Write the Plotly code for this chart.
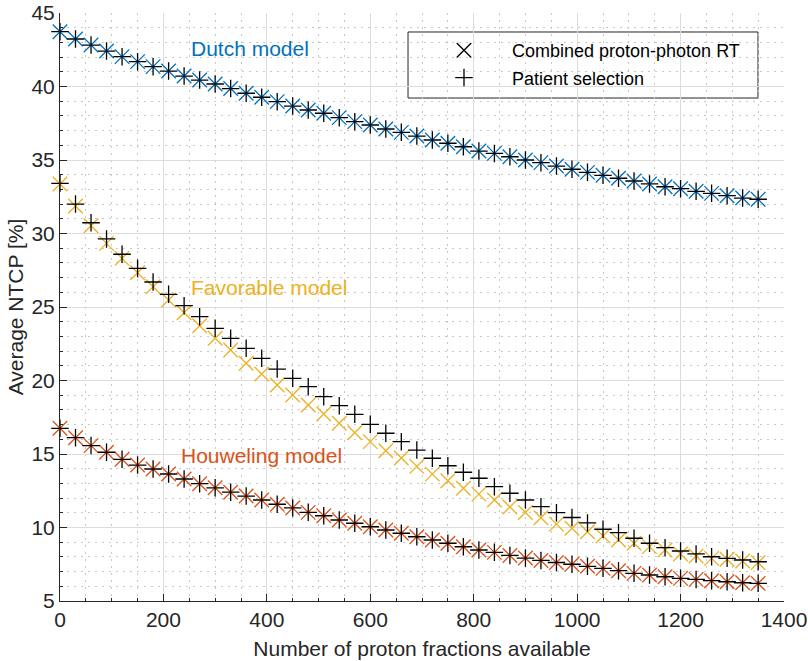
import plotly.graph_objects as go

# ---------------- data ----------------
fractions = list(range(0, 1351, 30))

dutch_combined = [43.73, 43.23, 42.82, 42.41, 42.03, 41.69, 41.35, 41.05, 40.71, 40.44,
                  40.17, 39.86, 39.54, 39.27, 38.97, 38.67, 38.40, 38.18, 37.88, 37.61,
                  37.38, 37.11, 36.88, 36.63, 36.36, 36.14, 35.90, 35.61, 35.45, 35.22,
                  35.00, 34.82, 34.59, 34.37, 34.16, 33.96, 33.76, 33.57, 33.37, 33.18,
                  33.05, 32.87, 32.73, 32.57, 32.41, 32.33]
dutch_selection = list(dutch_combined)

favorable_combined = [33.37, 31.87, 30.53, 29.33, 28.31, 27.33, 26.38, 25.48, 24.61, 23.73,
                      22.87, 22.07, 21.17, 20.44, 19.69, 19.01, 18.33, 17.72, 17.09, 16.45,
                      15.84, 15.22, 14.73, 14.16, 13.63, 13.18, 12.67, 12.27, 11.87, 11.40,
                      11.02, 10.66, 10.23, 9.95, 9.71, 9.42, 9.15, 8.93, 8.70, 8.47,
                      8.20, 8.06, 7.90, 7.84, 7.72, 7.61]
favorable_selection = [33.41, 32.00, 30.73, 29.63, 28.59, 27.63, 26.70, 25.86, 25.09, 24.34,
                       23.55, 22.87, 22.19, 21.51, 20.78, 20.15, 19.58, 18.90, 18.29, 17.70,
                       17.02, 16.41, 15.84, 15.27, 14.71, 14.20, 13.76, 13.35, 12.78, 12.33,
                       11.87, 11.42, 11.01, 10.68, 10.31, 9.88, 9.65, 9.27, 8.93, 8.63,
                       8.40, 8.20, 8.01, 7.90, 7.79, 7.67]

houweling_combined = [16.75, 16.11, 15.57, 15.12, 14.64, 14.25, 13.98, 13.64, 13.30, 12.98,
                      12.70, 12.40, 12.14, 11.87, 11.58, 11.33, 11.03, 10.80, 10.51, 10.29,
                      10.05, 9.83, 9.61, 9.37, 9.15, 8.93, 8.69, 8.47, 8.31, 8.10,
                      7.92, 7.76, 7.62, 7.50, 7.36, 7.22, 7.06, 6.88, 6.77, 6.65,
                      6.54, 6.47, 6.38, 6.31, 6.24, 6.20]
houweling_selection = list(houweling_combined)

model_names = ["Dutch model", "Favorable model", "Houweling model"]
model_colors = ["#0072BD", "#EDB120", "#D95319"]
label_pos = [(367, 42.6), (404, 26.36), (389, 14.93)]

x_ticks = list(range(0, 1401, 200))
y_ticks = list(range(5, 46, 5))

TXT = "#262626"
FONT = "Liberation Sans, Arial, sans-serif"
X_SIZE = 14.5
P_SIZE = 12.5
MW = 1.3

fig = go.Figure()

combined = [dutch_combined, favorable_combined, houweling_combined]
selection = [dutch_selection, favorable_selection, houweling_selection]

for vals, col in zip(combined, model_colors):
    fig.add_trace(go.Scatter(
        x=fractions, y=vals, mode="markers", showlegend=False, cliponaxis=False,
        marker=dict(symbol="x-thin-open", size=X_SIZE, color=col,
                    line=dict(color=col, width=MW))))

for vals in selection:
    fig.add_trace(go.Scatter(
        x=fractions, y=vals, mode="markers", showlegend=False, cliponaxis=False,
        marker=dict(symbol="cross-thin-open", size=P_SIZE, color="black",
                    line=dict(color="black", width=MW))))

# legend entries (black markers)
fig.add_trace(go.Scatter(x=[None], y=[None], mode="markers", name="Combined proton-photon RT",
                         legendgroup="a",
                         marker=dict(symbol="x-thin-open", size=X_SIZE, color="black",
                                     line=dict(color="black", width=MW))))
fig.add_trace(go.Scatter(x=[None], y=[None], mode="markers", name="Patient selection",
                         legendgroup="b",
                         marker=dict(symbol="cross-thin-open", size=P_SIZE, color="black",
                                     line=dict(color="black", width=MW))))

for name, col, (lx, ly) in zip(model_names, model_colors, label_pos):
    fig.add_annotation(x=lx, y=ly, text=name, showarrow=False,
                       font=dict(family=FONT, size=21, color=col))

# legend frame
fig.add_shape(type="rect", xref="paper", yref="paper",
              x0=0.4807, x1=0.9641, y0=0.8554, y1=0.9677,
              line=dict(color=TXT, width=1), fillcolor="white", layer="below")

axis_common = dict(
    showline=True, linecolor=TXT, linewidth=1, mirror=False, automargin=False,
    ticks="inside", ticklen=7, tickcolor=TXT, tickwidth=1,
    showgrid=True, gridcolor="#dcdcdc", gridwidth=1, zeroline=False,
    ticklabeloverflow="allow",
    tickfont=dict(family=FONT, size=21, color=TXT),
)

fig.update_layout(
    width=808, height=661,
    margin=dict(l=60, r=24, t=13, b=60),
    paper_bgcolor="white", plot_bgcolor="white",
    font=dict(family=FONT, color=TXT),
    xaxis=dict(range=[0, 1400], tickvals=x_ticks,
               title=dict(text="Number of proton fractions available",
                          font=dict(family=FONT, size=21, color=TXT), standoff=11),
               minor=dict(dtick=50, tick0=0, showgrid=True, gridcolor="#c8c8c8",
                          griddash="2px,5px", gridwidth=1, ticks="inside", ticklen=3,
                          tickcolor=TXT),
               **axis_common),
    yaxis=dict(range=[5, 45], tickvals=y_ticks,
               title=dict(text="Average NTCP [%]",
                          font=dict(family=FONT, size=21, color=TXT), standoff=2),
               minor=dict(dtick=1, tick0=5, showgrid=True, gridcolor="#c8c8c8",
                          griddash="2px,5px", gridwidth=1, ticks="inside", ticklen=3,
                          tickcolor=TXT),
               **axis_common),
    legend=dict(x=0.4917, y=0.9677, xanchor="left", yanchor="top",
                bgcolor="rgba(0,0,0,0)", borderwidth=0,
                font=dict(family=FONT, size=18, color="black"),
                itemwidth=86, tracegroupgap=1),
)

fig.write_html("out.html", config={"displayModeBar": False},
               post_script="document.body.style.margin='0px';document.body.style.overflow='hidden';")
